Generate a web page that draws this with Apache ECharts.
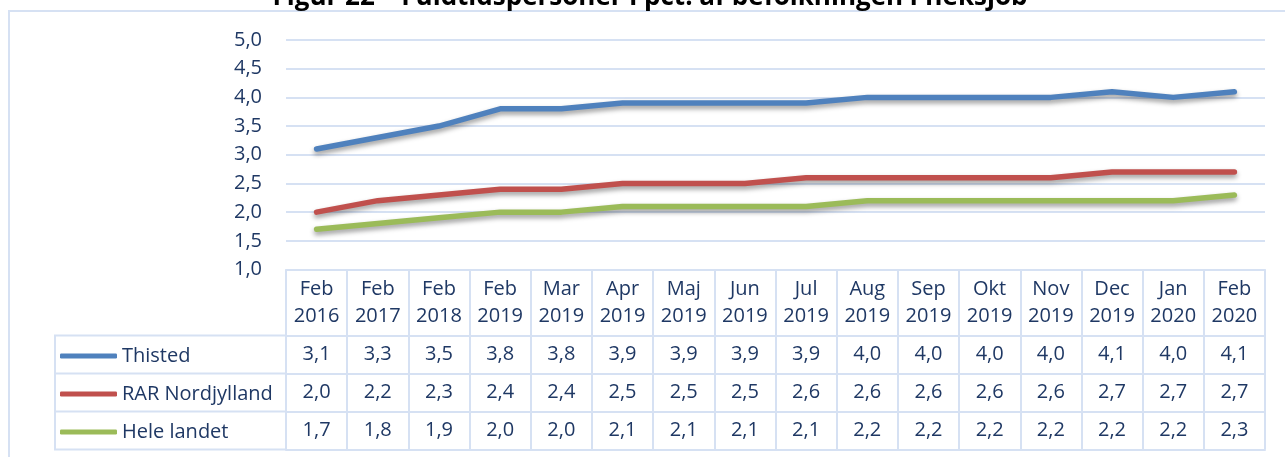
<!DOCTYPE html>
<html>
<head>
<meta charset="utf-8">
<script src="https://cdn.jsdelivr.net/npm/echarts@6/dist/echarts.min.js"></script>
<style>
  html, body { margin: 0; padding: 0; background: #fff; }
  #chart { width: 1285px; height: 457px; }
</style>
</head>
<body>
<div id="chart"></div>
<script>
// data
var months = ['Feb\n2016', 'Feb\n2017', 'Feb\n2018', 'Feb\n2019', 'Mar\n2019', 'Apr\n2019', 'Maj\n2019', 'Jun\n2019',
    'Jul\n2019', 'Aug\n2019', 'Sep\n2019', 'Okt\n2019', 'Nov\n2019', 'Dec\n2019', 'Jan\n2020', 'Feb\n2020'];
var thisted = [3.1, 3.3, 3.5, 3.8, 3.8, 3.9, 3.9, 3.9, 3.9, 4.0, 4.0, 4.0, 4.0, 4.1, 4.0, 4.1];
var rarNordjylland = [2.0, 2.2, 2.3, 2.4, 2.4, 2.5, 2.5, 2.5, 2.6, 2.6, 2.6, 2.6, 2.6, 2.7, 2.7, 2.7];
var heleLandet = [1.7, 1.8, 1.9, 2.0, 2.0, 2.1, 2.1, 2.1, 2.1, 2.2, 2.2, 2.2, 2.2, 2.2, 2.2, 2.3];
var seriesNames = ['Thisted', 'RAR Nordjylland', 'Hele landet'];
var titleText = 'Figur 22 – Fuldtidspersoner i pct. af befolkningen i fleksjob';

var font = 'Open Sans';
var textColor = '#1f3864';
var borderColor = '#d6e1f3';
var colors = ['#4f81bd', '#c0504d', '#9bbb59'];

var headerH = 66, rowH = 38;
var rows = [thisted, rarNordjylland, heleLandet];

function fmt(v) {
    return v.toFixed(1).replace('.', ',');
}

var chart = echarts.init(document.getElementById('chart'));

var xAxes = [{
    type: 'category',
    data: months,
    position: 'bottom',
    offset: 0,
    boundaryGap: true,
    axisLine: {show: true, lineStyle: {color: borderColor, width: 2}},
    axisTick: {show: true, length: headerH, lineStyle: {color: borderColor, width: 2}},
    axisLabel: {
        margin: headerH / 2, verticalAlign: 'middle', lineHeight: 27,
        fontSize: 20, fontFamily: font, color: textColor, interval: 0
    }
}];
rows.forEach(function (row, k) {
    xAxes.push({
        type: 'category',
        data: months,
        position: 'bottom',
        offset: headerH + rowH * k,
        axisLine: {show: true, lineStyle: {color: borderColor, width: 2}},
        axisTick: {show: true, length: rowH, lineStyle: {color: borderColor, width: 2}},
        axisLabel: {
            margin: rowH / 2, verticalAlign: 'middle',
            fontSize: 20, fontFamily: font, color: textColor, interval: 0,
            formatter: function (v, i) { return fmt(row[i]); }
        }
    });
});
// bottom border of table
xAxes.push({
    type: 'category',
    data: months,
    position: 'bottom',
    offset: headerH + rowH * rows.length,
    axisLine: {show: true, lineStyle: {color: borderColor, width: 2}},
    axisTick: {show: false},
    axisLabel: {show: false}
});

var tableTop = 457 - 187.5 + headerH;

var option = {
    animation: false,
    backgroundColor: '#fff',
    textStyle: {fontFamily: font},
    legend: {
        data: seriesNames,
        orient: 'vertical',
        left: 60,
        top: tableTop + 10.5,
        padding: 0,
        itemWidth: 57,
        itemHeight: 5,
        itemGap: 18,
        icon: 'roundRect',
        textStyle: {fontFamily: font, fontSize: 20, lineHeight: 20, color: textColor}
    },
    grid: {left: 286, right: 20, top: 40, bottom: 187.5},
    xAxis: xAxes,
    yAxis: {
        type: 'value',
        min: 1,
        max: 5,
        interval: 0.5,
        axisLine: {show: false},
        axisTick: {show: false},
        axisLabel: {
            margin: 24, fontSize: 20, fontFamily: font, color: textColor,
            formatter: function (v) { return fmt(v); }
        },
        splitLine: {lineStyle: {color: borderColor, width: 2}}
    },
    graphic: [
        {
            // title, cut off at the top edge as in the source figure
            type: 'text',
            x: 650,
            y: -2,
            style: {
                text: titleText, fill: '#000', align: 'center', verticalAlign: 'middle',
                font: 'bold 26px "Open Sans"'
            },
            silent: true
        },
        {
            type: 'rect',
            shape: {x: 9, y: 11, width: 1300, height: 470},
            style: {fill: 'none', stroke: borderColor, lineWidth: 2},
            silent: true, z: -1
        },
        {
            type: 'rect',
            shape: {x: 55, y: tableTop, width: 231, height: rowH * 3},
            style: {fill: 'none', stroke: borderColor, lineWidth: 2},
            silent: true
        },
        {
            type: 'line',
            shape: {x1: 55, y1: tableTop + rowH, x2: 286, y2: tableTop + rowH},
            style: {stroke: borderColor, lineWidth: 2},
            silent: true
        },
        {
            type: 'line',
            shape: {x1: 55, y1: tableTop + rowH * 2, x2: 286, y2: tableTop + rowH * 2},
            style: {stroke: borderColor, lineWidth: 2},
            silent: true
        }
    ],
    series: rows.map(function (row, k) {
        return {
            name: seriesNames[k],
            type: 'line',
            data: row,
            symbol: 'none',
            itemStyle: {color: colors[k]},
            lineStyle: {
                color: colors[k], width: 5.5, cap: 'round', join: 'round',
                shadowColor: 'rgba(0,0,0,0.4)', shadowBlur: 5, shadowOffsetY: 3
            }
        };
    })
};

chart.setOption(option);
</script>
</body>
</html>
